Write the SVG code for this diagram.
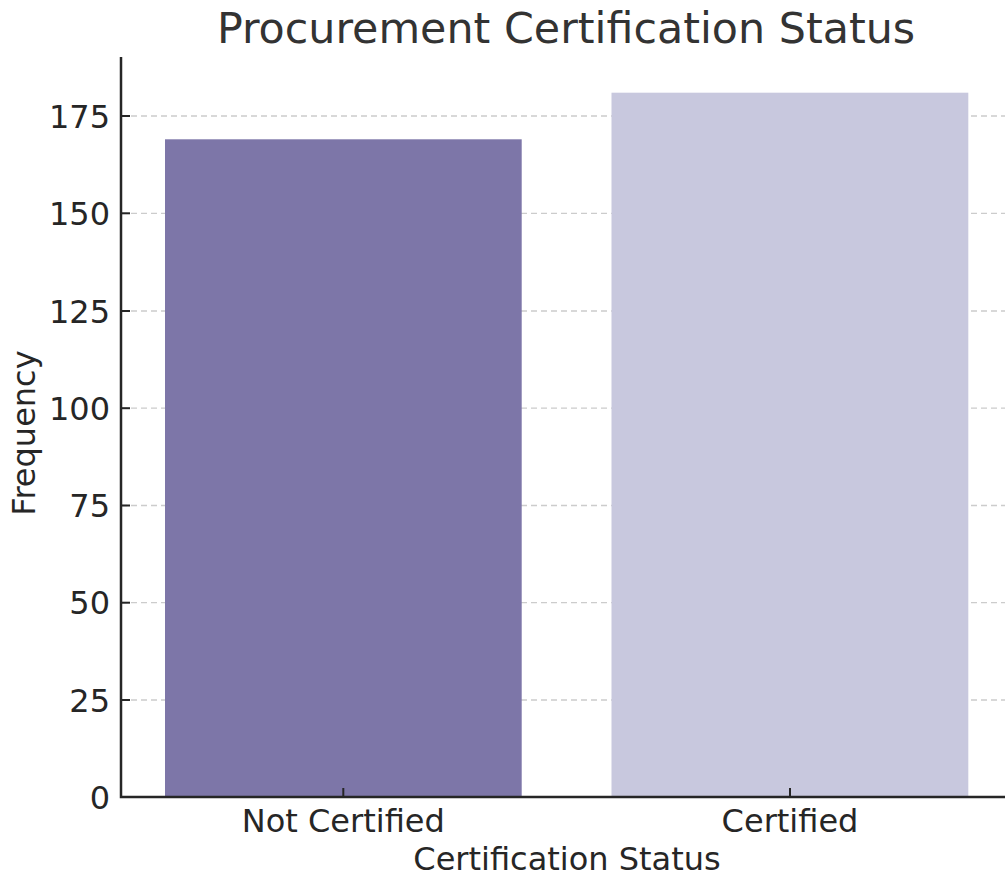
<svg xmlns="http://www.w3.org/2000/svg" width="1005" height="877" viewBox="0 0 1005 877">
  <style>
    text { font-family: "DejaVu Sans", "Liberation Sans", sans-serif; fill: #262626; }
    .tick { font-size: 32px; }
    .ylab { text-anchor: end; }
    .xlab { text-anchor: middle; }
    .grid { stroke: #cccccc; stroke-width: 1.3; stroke-dasharray: 6 4; }
    .axis { stroke: #262626; stroke-width: 2.5; fill: none; }
    .tk { stroke: #262626; stroke-width: 2; }
  </style>
  <rect width="1005" height="877" fill="#ffffff"/>

  <!-- horizontal grid -->
  <g id="grid">
    <line class="grid" x1="121" y1="700" x2="1005" y2="700"/>
    <line class="grid" x1="121" y1="602.7" x2="1005" y2="602.7"/>
    <line class="grid" x1="121" y1="505.5" x2="1005" y2="505.5"/>
    <line class="grid" x1="121" y1="408.2" x2="1005" y2="408.2"/>
    <line class="grid" x1="121" y1="311" x2="1005" y2="311"/>
    <line class="grid" x1="121" y1="213.3" x2="1005" y2="213.3"/>
    <line class="grid" x1="121" y1="116" x2="1005" y2="116"/>
  </g>

  <!-- bars -->
  <g id="bar-not-certified">
    <rect x="165" y="139.3" width="356.7" height="657.7" fill="#7d76a8"/>
  </g>
  <g id="bar-certified">
    <rect x="611.5" y="92.7" width="356.8" height="704.3" fill="#c8c8de"/>
  </g>

  <!-- axes -->
  <g id="axes">
    <path class="axis" d="M121 57 V797 H1005"/>
    <line class="tk" x1="121" y1="797" x2="130" y2="797"/>
    <line class="tk" x1="121" y1="700" x2="130" y2="700"/>
    <line class="tk" x1="121" y1="602.7" x2="130" y2="602.7"/>
    <line class="tk" x1="121" y1="505.5" x2="130" y2="505.5"/>
    <line class="tk" x1="121" y1="408.2" x2="130" y2="408.2"/>
    <line class="tk" x1="121" y1="311" x2="130" y2="311"/>
    <line class="tk" x1="121" y1="213.3" x2="130" y2="213.3"/>
    <line class="tk" x1="121" y1="116" x2="130" y2="116"/>
    <line class="tk" x1="343.3" y1="797" x2="343.3" y2="788"/>
    <line class="tk" x1="790" y1="797" x2="790" y2="788"/>
  </g>

  <!-- tick labels -->
  <g id="y-labels" class="tick">
    <text class="ylab" x="110" y="808.5">0</text>
    <text class="ylab" x="110" y="711.5">25</text>
    <text class="ylab" x="110" y="614.2">50</text>
    <text class="ylab" x="110" y="517">75</text>
    <text class="ylab" x="110" y="419.7">100</text>
    <text class="ylab" x="110" y="322.5">125</text>
    <text class="ylab" x="110" y="224.8">150</text>
    <text class="ylab" x="110" y="127.5">175</text>
  </g>
  <g id="x-labels" class="tick">
    <text class="xlab" x="343.3" y="832">Not Certified</text>
    <text class="xlab" x="790" y="832">Certified</text>
  </g>

  <!-- titles -->
  <text x="567" y="870" font-size="32" text-anchor="middle">Certification Status</text>
  <text transform="translate(35 433) rotate(-90)" font-size="32" text-anchor="middle">Frequency</text>
  <text x="566" y="43" font-size="42.8" text-anchor="middle" style="fill:#333333">Procurement Certification Status</text>
</svg>
